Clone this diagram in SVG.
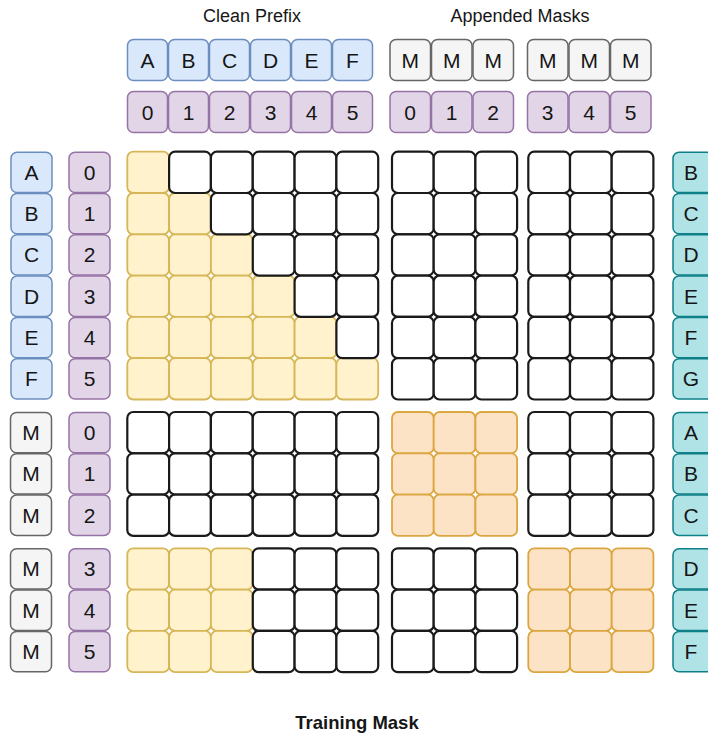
<svg xmlns="http://www.w3.org/2000/svg" xmlns:xlink="http://www.w3.org/1999/xlink" width="708" height="736" viewBox="0 0 708 736">
<style>
text{font-family:"Liberation Sans",Arial,Helvetica,sans-serif;fill:#161616;text-anchor:middle}
.t{font-size:21px}
.hd{font-size:18px}
.ttl{font-size:18.5px;font-weight:bold}
.bl{fill:#dae8fc;stroke:#6c8ebf;stroke-width:1.5}
.pu{fill:#e1d5e7;stroke:#9673a6;stroke-width:1.5}
.gr{fill:#f5f5f5;stroke:#666666;stroke-width:1.5}
.te{fill:#b0e3e6;stroke:#0e8088;stroke-width:1.5}
.w{fill:#ffffff;stroke:#1a1a1a;stroke-width:2.2}
.y{fill:#fff2cc;stroke:#d6b656;stroke-width:1.8}
.o{fill:#fde3c6;stroke:#dba640;stroke-width:1.8}
</style>
<defs>
<rect id="cL" width="41.8" height="41.3" rx="6"/>
<rect id="cM" width="41.7" height="41.3" rx="6"/>
<rect id="hb" width="40" height="41" rx="6"/>
<rect id="hm" width="40.5" height="41" rx="6"/>
<rect id="lb" width="41" height="40.3" rx="6"/>
<rect id="rb" width="45" height="40.3" rx="6"/>
</defs>

<g id="heading-clean"><text class="hd" x="252" y="21.5">Clean Prefix</text></g>
<g id="heading-appended"><text class="hd" x="520" y="21.5">Appended Masks</text></g>

<g id="top-tokens">
<g id="top-A"><use href="#hb" class="bl" x="127.5" y="39.5"/><text class="t" x="147.5" y="67.5">A</text></g>
<g id="top-B"><use href="#hb" class="bl" x="168.5" y="39.5"/><text class="t" x="188.5" y="67.5">B</text></g>
<g id="top-C"><use href="#hb" class="bl" x="209.5" y="39.5"/><text class="t" x="229.5" y="67.5">C</text></g>
<g id="top-D"><use href="#hb" class="bl" x="250.5" y="39.5"/><text class="t" x="270.5" y="67.5">D</text></g>
<g id="top-E"><use href="#hb" class="bl" x="291.5" y="39.5"/><text class="t" x="311.5" y="67.5">E</text></g>
<g id="top-F"><use href="#hb" class="bl" x="332.5" y="39.5"/><text class="t" x="352.5" y="67.5">F</text></g>
<g id="top-M0"><use href="#hm" class="gr" x="390" y="39.5"/><text class="t" x="410.2" y="67.5">M</text></g>
<g id="top-M1"><use href="#hm" class="gr" x="431.5" y="39.5"/><text class="t" x="451.7" y="67.5">M</text></g>
<g id="top-M2"><use href="#hm" class="gr" x="473" y="39.5"/><text class="t" x="493.2" y="67.5">M</text></g>
<g id="top-M3"><use href="#hm" class="gr" x="527.5" y="39.5"/><text class="t" x="547.7" y="67.5">M</text></g>
<g id="top-M4"><use href="#hm" class="gr" x="569" y="39.5"/><text class="t" x="589.2" y="67.5">M</text></g>
<g id="top-M5"><use href="#hm" class="gr" x="610.5" y="39.5"/><text class="t" x="630.7" y="67.5">M</text></g>
</g>

<g id="top-positions">
<g id="tp-0"><use href="#hb" class="pu" x="127.5" y="91.5"/><text class="t" x="147.5" y="119.5">0</text></g>
<g id="tp-1"><use href="#hb" class="pu" x="168.5" y="91.5"/><text class="t" x="188.5" y="119.5">1</text></g>
<g id="tp-2"><use href="#hb" class="pu" x="209.5" y="91.5"/><text class="t" x="229.5" y="119.5">2</text></g>
<g id="tp-3"><use href="#hb" class="pu" x="250.5" y="91.5"/><text class="t" x="270.5" y="119.5">3</text></g>
<g id="tp-4"><use href="#hb" class="pu" x="291.5" y="91.5"/><text class="t" x="311.5" y="119.5">4</text></g>
<g id="tp-5"><use href="#hb" class="pu" x="332.5" y="91.5"/><text class="t" x="352.5" y="119.5">5</text></g>
<g id="tp-m0"><use href="#hm" class="pu" x="390" y="91.5"/><text class="t" x="410.2" y="119.5">0</text></g>
<g id="tp-m1"><use href="#hm" class="pu" x="431.5" y="91.5"/><text class="t" x="451.7" y="119.5">1</text></g>
<g id="tp-m2"><use href="#hm" class="pu" x="473" y="91.5"/><text class="t" x="493.2" y="119.5">2</text></g>
<g id="tp-m3"><use href="#hm" class="pu" x="527.5" y="91.5"/><text class="t" x="547.7" y="119.5">3</text></g>
<g id="tp-m4"><use href="#hm" class="pu" x="569" y="91.5"/><text class="t" x="589.2" y="119.5">4</text></g>
<g id="tp-m5"><use href="#hm" class="pu" x="610.5" y="91.5"/><text class="t" x="630.7" y="119.5">5</text></g>
</g>

<g id="left-tokens">
<g id="l-A"><use href="#lb" class="bl" x="11" y="152.2"/><text class="t" x="31.5" y="179.8">A</text></g>
<g id="l-B"><use href="#lb" class="bl" x="11" y="193.5"/><text class="t" x="31.5" y="221.1">B</text></g>
<g id="l-C"><use href="#lb" class="bl" x="11" y="234.8"/><text class="t" x="31.5" y="262.4">C</text></g>
<g id="l-D"><use href="#lb" class="bl" x="11" y="276.1"/><text class="t" x="31.5" y="303.7">D</text></g>
<g id="l-E"><use href="#lb" class="bl" x="11" y="317.4"/><text class="t" x="31.5" y="345">E</text></g>
<g id="l-F"><use href="#lb" class="bl" x="11" y="358.7"/><text class="t" x="31.5" y="386.3">F</text></g>
<g id="l-M0"><use href="#lb" class="gr" x="10.5" y="412.5"/><text class="t" x="31" y="440.1">M</text></g>
<g id="l-M1"><use href="#lb" class="gr" x="10.5" y="453.8"/><text class="t" x="31" y="481.4">M</text></g>
<g id="l-M2"><use href="#lb" class="gr" x="10.5" y="495.1"/><text class="t" x="31" y="522.7">M</text></g>
<g id="l-M3"><use href="#lb" class="gr" x="10.5" y="548.8"/><text class="t" x="31" y="576.4">M</text></g>
<g id="l-M4"><use href="#lb" class="gr" x="10.5" y="590.1"/><text class="t" x="31" y="617.7">M</text></g>
<g id="l-M5"><use href="#lb" class="gr" x="10.5" y="631.4"/><text class="t" x="31" y="659">M</text></g>
</g>

<g id="left-positions">
<g id="lp-0"><use href="#lb" class="pu" x="69" y="152.2"/><text class="t" x="89.5" y="179.8">0</text></g>
<g id="lp-1"><use href="#lb" class="pu" x="69" y="193.5"/><text class="t" x="89.5" y="221.1">1</text></g>
<g id="lp-2"><use href="#lb" class="pu" x="69" y="234.8"/><text class="t" x="89.5" y="262.4">2</text></g>
<g id="lp-3"><use href="#lb" class="pu" x="69" y="276.1"/><text class="t" x="89.5" y="303.7">3</text></g>
<g id="lp-4"><use href="#lb" class="pu" x="69" y="317.4"/><text class="t" x="89.5" y="345">4</text></g>
<g id="lp-5"><use href="#lb" class="pu" x="69" y="358.7"/><text class="t" x="89.5" y="386.3">5</text></g>
<g id="lp-m0"><use href="#lb" class="pu" x="69" y="412.5"/><text class="t" x="89.5" y="440.1">0</text></g>
<g id="lp-m1"><use href="#lb" class="pu" x="69" y="453.8"/><text class="t" x="89.5" y="481.4">1</text></g>
<g id="lp-m2"><use href="#lb" class="pu" x="69" y="495.1"/><text class="t" x="89.5" y="522.7">2</text></g>
<g id="lp-m3"><use href="#lb" class="pu" x="69" y="548.8"/><text class="t" x="89.5" y="576.4">3</text></g>
<g id="lp-m4"><use href="#lb" class="pu" x="69" y="590.1"/><text class="t" x="89.5" y="617.7">4</text></g>
<g id="lp-m5"><use href="#lb" class="pu" x="69" y="631.4"/><text class="t" x="89.5" y="659">5</text></g>
</g>

<g id="right-targets">
<g id="r-B"><use href="#rb" class="te" x="673" y="152.2"/><text class="t" x="691" y="179.8">B</text></g>
<g id="r-C"><use href="#rb" class="te" x="673" y="193.5"/><text class="t" x="691" y="221.1">C</text></g>
<g id="r-D"><use href="#rb" class="te" x="673" y="234.8"/><text class="t" x="691" y="262.4">D</text></g>
<g id="r-E"><use href="#rb" class="te" x="673" y="276.1"/><text class="t" x="691" y="303.7">E</text></g>
<g id="r-F"><use href="#rb" class="te" x="673" y="317.4"/><text class="t" x="691" y="345">F</text></g>
<g id="r-G"><use href="#rb" class="te" x="673" y="358.7"/><text class="t" x="691" y="386.3">G</text></g>
<g id="r-A2"><use href="#rb" class="te" x="673" y="412.5"/><text class="t" x="691" y="440.1">A</text></g>
<g id="r-B2"><use href="#rb" class="te" x="673" y="453.8"/><text class="t" x="691" y="481.4">B</text></g>
<g id="r-C2"><use href="#rb" class="te" x="673" y="495.1"/><text class="t" x="691" y="522.7">C</text></g>
<g id="r-D2"><use href="#rb" class="te" x="673" y="548.8"/><text class="t" x="691" y="576.4">D</text></g>
<g id="r-E2"><use href="#rb" class="te" x="673" y="590.1"/><text class="t" x="691" y="617.7">E</text></g>
<g id="r-F2"><use href="#rb" class="te" x="673" y="631.4"/><text class="t" x="691" y="659">F</text></g>
</g>

<g id="block-prefix-prefix">
<use href="#cL" class="y" x="127.3" y="151.7"/>
<use href="#cL" class="y" x="127.3" y="193"/><use href="#cL" class="y" x="169.1" y="193"/>
<use href="#cL" class="y" x="127.3" y="234.3"/><use href="#cL" class="y" x="169.1" y="234.3"/><use href="#cL" class="y" x="210.9" y="234.3"/>
<use href="#cL" class="y" x="127.3" y="275.6"/><use href="#cL" class="y" x="169.1" y="275.6"/><use href="#cL" class="y" x="210.9" y="275.6"/><use href="#cL" class="y" x="252.8" y="275.6"/>
<use href="#cL" class="y" x="127.3" y="316.9"/><use href="#cL" class="y" x="169.1" y="316.9"/><use href="#cL" class="y" x="210.9" y="316.9"/><use href="#cL" class="y" x="252.8" y="316.9"/><use href="#cL" class="y" x="294.6" y="316.9"/>
<use href="#cL" class="y" x="127.3" y="358.2"/><use href="#cL" class="y" x="169.1" y="358.2"/><use href="#cL" class="y" x="210.9" y="358.2"/><use href="#cL" class="y" x="252.8" y="358.2"/><use href="#cL" class="y" x="294.6" y="358.2"/><use href="#cL" class="y" x="336.4" y="358.2"/>
<use href="#cL" class="w" x="169.1" y="151.7"/><use href="#cL" class="w" x="210.9" y="151.7"/><use href="#cL" class="w" x="252.8" y="151.7"/><use href="#cL" class="w" x="294.6" y="151.7"/><use href="#cL" class="w" x="336.4" y="151.7"/>
<use href="#cL" class="w" x="210.9" y="193"/><use href="#cL" class="w" x="252.8" y="193"/><use href="#cL" class="w" x="294.6" y="193"/><use href="#cL" class="w" x="336.4" y="193"/>
<use href="#cL" class="w" x="252.8" y="234.3"/><use href="#cL" class="w" x="294.6" y="234.3"/><use href="#cL" class="w" x="336.4" y="234.3"/>
<use href="#cL" class="w" x="294.6" y="275.6"/><use href="#cL" class="w" x="336.4" y="275.6"/>
<use href="#cL" class="w" x="336.4" y="316.9"/>
</g>

<g id="block-prefix-masks1">
<use href="#cM" class="w" x="392" y="151.7"/><use href="#cM" class="w" x="433.7" y="151.7"/><use href="#cM" class="w" x="475.4" y="151.7"/>
<use href="#cM" class="w" x="392" y="193"/><use href="#cM" class="w" x="433.7" y="193"/><use href="#cM" class="w" x="475.4" y="193"/>
<use href="#cM" class="w" x="392" y="234.3"/><use href="#cM" class="w" x="433.7" y="234.3"/><use href="#cM" class="w" x="475.4" y="234.3"/>
<use href="#cM" class="w" x="392" y="275.6"/><use href="#cM" class="w" x="433.7" y="275.6"/><use href="#cM" class="w" x="475.4" y="275.6"/>
<use href="#cM" class="w" x="392" y="316.9"/><use href="#cM" class="w" x="433.7" y="316.9"/><use href="#cM" class="w" x="475.4" y="316.9"/>
<use href="#cM" class="w" x="392" y="358.2"/><use href="#cM" class="w" x="433.7" y="358.2"/><use href="#cM" class="w" x="475.4" y="358.2"/>
</g>

<g id="block-prefix-masks2">
<use href="#cM" class="w" x="528.3" y="151.7"/><use href="#cM" class="w" x="570" y="151.7"/><use href="#cM" class="w" x="611.7" y="151.7"/>
<use href="#cM" class="w" x="528.3" y="193"/><use href="#cM" class="w" x="570" y="193"/><use href="#cM" class="w" x="611.7" y="193"/>
<use href="#cM" class="w" x="528.3" y="234.3"/><use href="#cM" class="w" x="570" y="234.3"/><use href="#cM" class="w" x="611.7" y="234.3"/>
<use href="#cM" class="w" x="528.3" y="275.6"/><use href="#cM" class="w" x="570" y="275.6"/><use href="#cM" class="w" x="611.7" y="275.6"/>
<use href="#cM" class="w" x="528.3" y="316.9"/><use href="#cM" class="w" x="570" y="316.9"/><use href="#cM" class="w" x="611.7" y="316.9"/>
<use href="#cM" class="w" x="528.3" y="358.2"/><use href="#cM" class="w" x="570" y="358.2"/><use href="#cM" class="w" x="611.7" y="358.2"/>
</g>

<g id="block-masks1-prefix">
<use href="#cL" class="w" x="127.3" y="412"/><use href="#cL" class="w" x="169.1" y="412"/><use href="#cL" class="w" x="210.9" y="412"/><use href="#cL" class="w" x="252.8" y="412"/><use href="#cL" class="w" x="294.6" y="412"/><use href="#cL" class="w" x="336.4" y="412"/>
<use href="#cL" class="w" x="127.3" y="453.3"/><use href="#cL" class="w" x="169.1" y="453.3"/><use href="#cL" class="w" x="210.9" y="453.3"/><use href="#cL" class="w" x="252.8" y="453.3"/><use href="#cL" class="w" x="294.6" y="453.3"/><use href="#cL" class="w" x="336.4" y="453.3"/>
<use href="#cL" class="w" x="127.3" y="494.6"/><use href="#cL" class="w" x="169.1" y="494.6"/><use href="#cL" class="w" x="210.9" y="494.6"/><use href="#cL" class="w" x="252.8" y="494.6"/><use href="#cL" class="w" x="294.6" y="494.6"/><use href="#cL" class="w" x="336.4" y="494.6"/>
</g>

<g id="block-masks1-masks1">
<use href="#cM" class="o" x="392" y="412"/><use href="#cM" class="o" x="433.7" y="412"/><use href="#cM" class="o" x="475.4" y="412"/>
<use href="#cM" class="o" x="392" y="453.3"/><use href="#cM" class="o" x="433.7" y="453.3"/><use href="#cM" class="o" x="475.4" y="453.3"/>
<use href="#cM" class="o" x="392" y="494.6"/><use href="#cM" class="o" x="433.7" y="494.6"/><use href="#cM" class="o" x="475.4" y="494.6"/>
</g>

<g id="block-masks1-masks2">
<use href="#cM" class="w" x="528.3" y="412"/><use href="#cM" class="w" x="570" y="412"/><use href="#cM" class="w" x="611.7" y="412"/>
<use href="#cM" class="w" x="528.3" y="453.3"/><use href="#cM" class="w" x="570" y="453.3"/><use href="#cM" class="w" x="611.7" y="453.3"/>
<use href="#cM" class="w" x="528.3" y="494.6"/><use href="#cM" class="w" x="570" y="494.6"/><use href="#cM" class="w" x="611.7" y="494.6"/>
</g>

<g id="block-masks2-prefix">
<use href="#cL" class="y" x="127.3" y="548.3"/><use href="#cL" class="y" x="169.1" y="548.3"/><use href="#cL" class="y" x="210.9" y="548.3"/>
<use href="#cL" class="y" x="127.3" y="589.6"/><use href="#cL" class="y" x="169.1" y="589.6"/><use href="#cL" class="y" x="210.9" y="589.6"/>
<use href="#cL" class="y" x="127.3" y="630.9"/><use href="#cL" class="y" x="169.1" y="630.9"/><use href="#cL" class="y" x="210.9" y="630.9"/>
<use href="#cL" class="w" x="252.8" y="548.3"/><use href="#cL" class="w" x="294.6" y="548.3"/><use href="#cL" class="w" x="336.4" y="548.3"/>
<use href="#cL" class="w" x="252.8" y="589.6"/><use href="#cL" class="w" x="294.6" y="589.6"/><use href="#cL" class="w" x="336.4" y="589.6"/>
<use href="#cL" class="w" x="252.8" y="630.9"/><use href="#cL" class="w" x="294.6" y="630.9"/><use href="#cL" class="w" x="336.4" y="630.9"/>
</g>

<g id="block-masks2-masks1">
<use href="#cM" class="w" x="392" y="548.3"/><use href="#cM" class="w" x="433.7" y="548.3"/><use href="#cM" class="w" x="475.4" y="548.3"/>
<use href="#cM" class="w" x="392" y="589.6"/><use href="#cM" class="w" x="433.7" y="589.6"/><use href="#cM" class="w" x="475.4" y="589.6"/>
<use href="#cM" class="w" x="392" y="630.9"/><use href="#cM" class="w" x="433.7" y="630.9"/><use href="#cM" class="w" x="475.4" y="630.9"/>
</g>

<g id="block-masks2-masks2">
<use href="#cM" class="o" x="528.3" y="548.3"/><use href="#cM" class="o" x="570" y="548.3"/><use href="#cM" class="o" x="611.7" y="548.3"/>
<use href="#cM" class="o" x="528.3" y="589.6"/><use href="#cM" class="o" x="570" y="589.6"/><use href="#cM" class="o" x="611.7" y="589.6"/>
<use href="#cM" class="o" x="528.3" y="630.9"/><use href="#cM" class="o" x="570" y="630.9"/><use href="#cM" class="o" x="611.7" y="630.9"/>
</g>

<g id="connectors"></g>

<g id="title"><text class="ttl" x="357" y="728.5">Training Mask</text></g>
</svg>
